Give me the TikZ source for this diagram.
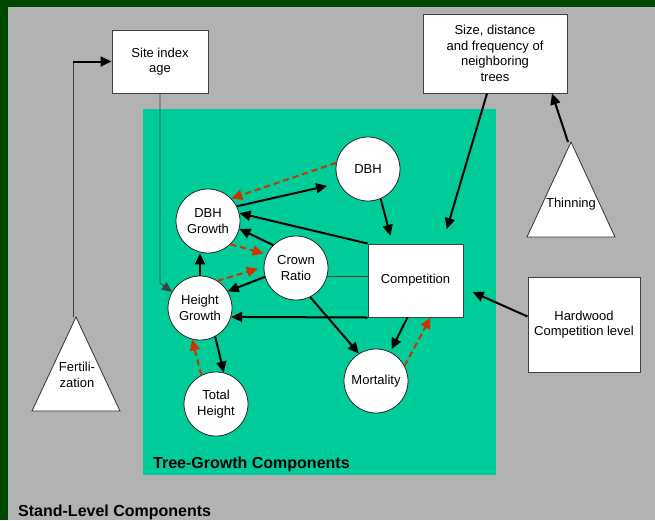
\documentclass[tikz,border=0pt]{standalone}
\usepackage{fontspec}
\setmainfont{Liberation Sans}
\usepackage{tikz}
\usetikzlibrary{arrows.meta}

\definecolor{framegreen}{RGB}{0,72,0}
\definecolor{standgray}{RGB}{178,178,178}
\definecolor{treeteal}{RGB}{0,204,153}
\definecolor{dashred}{RGB}{204,51,0}

\begin{document}
\begin{tikzpicture}[x=1pt,y=-1pt,
  every node/.style={font=\fontsize{13}{15.5}\selectfont,align=center,inner sep=0pt},
  growth/.style={draw=black!85,line width=0.8pt,shape=circle,fill=white,minimum size=64pt},
  infobox/.style={draw=black!75,line width=1pt,fill=white},
  treatment/.style={draw=black!80,line width=0.8pt,fill=white},
  caption/.style={anchor=base west,font=\fontsize{16}{19}\selectfont\bfseries},
  arr/.style={line width=2pt,-{Triangle[length=11pt,width=10pt]}},
  dasharr/.style={dashred,line width=2pt,dash pattern=on 6pt off 4pt,-{Triangle[length=11pt,width=10pt]}},
  thinline/.style={black!75,line width=0.9pt}]

  \useasboundingbox (0,0) rectangle (655,520);

  % Background panels
  \fill[framegreen] (0,0) rectangle (655,520);
  \fill[standgray] (8,7) rectangle (655,520);
  \fill[treeteal] (143,109) rectangle (496,475);

  % Treatments (triangles)
  \draw[treatment] (32,411) -- (76,317) -- (120,411) -- cycle;
  \draw[treatment] (527,237) -- (571,142) -- (615,237) -- cycle;
  \coordinate (fertTop) at (73,317);
  \coordinate (thinTop) at (568,142);
  \coordinate (siteBend) at (160,283);

  % Specification of nodes (position, etc.)
  \node (fert) at (77,375) {Fertili-\\zation};
  \node (thin) at (571,204) {Thinning};

  \node[infobox,minimum width=96pt,minimum height=63pt] (site) at (160,61.5) {Site index\\age};
  \node[infobox,minimum width=144pt,minimum height=79pt] (size) at (495,53.5)
    {Size, distance\\and frequency of\\neighboring\\trees};
  \node[infobox,minimum width=95pt,minimum height=73pt] (comp) at (415.5,280.5) {Competition};
  \node[infobox,minimum width=112pt,minimum height=95pt] (hw) at (584,324.5)
    {Hardwood\\Competition level};

  \node[growth] (dbh) at (368,169) {DBH};
  \node[growth] (dbhg) at (208,221) {DBH\\Growth};
  \node[growth] (cr) at (296,268) {Crown\\Ratio};
  \node[growth] (hg) at (200,308) {Height\\Growth};
  \node[growth] (th) at (216,404) {Total\\Height};
  \node[growth] (mort) at (376,381) {Mortality};

  \node[caption] (treelbl) at (153,468) {Tree-Growth Components};
  \node[caption] (standlbl) at (18,516) {Stand-Level Components};

  \begin{scope}
    % stand-level links
    \draw[thinline] (fertTop) -- (fertTop |- site.west);
    \draw[arr] (fertTop |- site.west) -- (site.west);
    \draw[thinline,-{Triangle[length=10pt,width=9pt]}] (site.south) -- (siteBend) -- (hg.150);
    \draw[arr,shorten >=15pt] ([xshift=-8pt]size.south) -- ([xshift=27pt]comp.north);
    \draw[arr] (thinTop) -- ([xshift=57pt]size.south);
    \draw[arr,shorten >=10pt] ([yshift=8pt]hw.west) -- ([yshift=-7.5pt]comp.east);

    % tree-level links
    \draw[arr,shorten >=12pt] (dbhg.27) -- (dbh.206);
    \draw[arr,shorten >=8pt] (dbh.293) -- ([xshift=-23pt]comp.north);
    \draw[arr] (comp.north west) -- (dbhg.14);
    \draw[arr] (cr.135) -- (dbhg.346);
    \draw[arr] (cr.196) -- (hg.31);
    \draw[thinline] (cr.-16) -- (cr.-16 -| comp.west);
    \draw[arr] (comp.south west) -- (hg.344);
    \draw[arr] (cr.296) -- (mort.122);
    \draw[arr,shorten >=3pt] ([xshift=-8pt]comp.south) -- (mort.64);
    \draw[arr] (hg.north) -- (hg.north |- dbhg.south);
    \draw[arr] (hg.298) -- (th.76);

    % dashed feedback links
    \draw[dasharr] (dbh.169) -- (dbhg.44);
    \draw[dasharr,shorten >=3pt] (dbhg.314) -- (cr.155);
    \draw[dasharr,shorten >=6pt] (hg.57) -- (cr.178);
    \draw[dasharr] (th.117) -- (hg.256);
    \draw[dasharr] (mort.28) -- ([xshift=15pt]comp.south);
  \end{scope}

\end{tikzpicture}
\end{document}
